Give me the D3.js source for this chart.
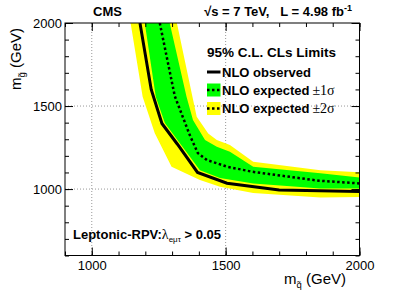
<!DOCTYPE html>
<html>
<head>
<meta charset="utf-8">
<script src="https://cdn.jsdelivr.net/npm/d3@7"></script>
<style>
  body { margin: 0; background: #fff; }
  svg { display: block; font-family: "Liberation Sans", Arial, sans-serif; }
</style>
</head>
<body>
<div id="chart"></div>
<script>
// --- Data (squark mass, gluino mass) in GeV ---
const observedSquark = [1180, 1222, 1262, 1320, 1395, 1505, 1700, 2000];
const observedGluino = [2000, 1600, 1395, 1270, 1100, 1035, 995, 985];

const expectedSquark = [1254, 1310, 1366, 1396, 1430, 1505, 1600, 1850, 2000];
const expectedGluino = [2000, 1560, 1325, 1217, 1175, 1135, 1104, 1050, 1034];

// +-1 sigma band edges
const sig1HiSquark = [1291, 1354, 1378, 1423, 1467, 1516, 1603, 1854, 2000];
const sig1HiGluino = [2000, 1556, 1416, 1295, 1255, 1225, 1134, 1095, 1070];
const sig1LoSquark = [1198, 1239, 1273, 1404, 1479, 1603, 1854, 2000];
const sig1LoGluino = [2000, 1556, 1398, 1114, 1066, 1034, 1004, 1004];

// +-2 sigma band edges
const sig2HiSquark = [1318, 1376, 1392, 1435, 1467, 1516, 1603, 1854, 2000];
const sig2HiGluino = [2000, 1556, 1436, 1335, 1295, 1265, 1164, 1114, 1102];
const sig2LoSquark = [1145, 1190, 1235, 1298, 1404, 1479, 1603, 1854, 2000];
const sig2LoGluino = [2000, 1556, 1337, 1134, 1054, 1014, 976, 950, 952];

const xMajorTicks = [1000, 1500, 2000];
const yMajorTicks = [1000, 1500, 2000];
const xMinorTicks = d3.range(900, 2001, 100);
const yMinorTicks = d3.range(600, 2001, 100);

const zip = (xs, ys) => xs.map((x, i) => [x, ys[i]]);

// --- Sizes ---
const W = 409, H = 294;
const plot = { left: 65, right: 359.5, top: 23, bottom: 255.5 };

const svg = d3.select("#chart").append("svg")
    .attr("width", W)
    .attr("height", H);

// --- Scales ---
const x = d3.scaleLinear().domain([900, 2000]).range([plot.left, plot.right]);
const y = d3.scaleLinear().domain([600, 2000]).range([plot.bottom, plot.top]);

svg.append("clipPath").attr("id", "clip")
  .append("rect")
    .attr("x", plot.left).attr("y", plot.top)
    .attr("width", plot.right - plot.left)
    .attr("height", plot.bottom - plot.top);

const line = d3.line().x(d => x(d[0])).y(d => y(d[1]));

const band = (hiX, hiY, loX, loY) =>
    line(zip(hiX, hiY).concat(zip(loX, loY).reverse())) + "Z";

const g = svg.append("g").attr("clip-path", "url(#clip)");

// bands
g.append("path")
    .attr("d", band(sig2HiSquark, sig2HiGluino, sig2LoSquark, sig2LoGluino))
    .attr("fill", "#ffff00");
g.append("path")
    .attr("d", band(sig1HiSquark, sig1HiGluino, sig1LoSquark, sig1LoGluino))
    .attr("fill", "#00ff00");

// grid (dotted, at major ticks)
const grid = svg.append("g");
grid.selectAll(".gx").data([1000, 1500]).join("line")
    .attr("x1", d => x(d)).attr("x2", d => x(d))
    .attr("y1", plot.top).attr("y2", plot.bottom);
grid.selectAll(".gy").data([1000, 1500]).join("line")
    .attr("y1", d => y(d)).attr("y2", d => y(d))
    .attr("x1", plot.left).attr("x2", plot.right);
grid.selectAll("line")
    .attr("stroke", "#999")
    .attr("stroke-width", 1)
    .attr("stroke-dasharray", "1,2");
grid.lower();

// lines
g.append("path")
    .attr("d", line(zip(expectedSquark, expectedGluino)))
    .attr("fill", "none")
    .attr("stroke", "#000")
    .attr("stroke-width", 2.5)
    .attr("stroke-dasharray", "2.5,2.5");
g.append("path")
    .attr("d", line(zip(observedSquark, observedGluino)))
    .attr("fill", "none")
    .attr("stroke", "#000")
    .attr("stroke-width", 3);

// --- Axes (ROOT style: ticks inside, on all four sides) ---
const styleAxis = sel => {
    sel.select(".domain").remove();
    sel.selectAll("line").attr("stroke", "#000");
    sel.selectAll("text")
        .attr("fill", "#000")
        .style("font-size", "13px")
        .style("font-family", "'Liberation Sans', Arial, sans-serif");
};

// bottom
svg.append("g").attr("transform", `translate(0,${plot.bottom})`)
    .call(d3.axisBottom(x).tickValues(xMinorTicks).tickSize(-4).tickFormat(""))
    .call(styleAxis);
svg.append("g").attr("transform", `translate(0,${plot.bottom})`)
    .call(d3.axisBottom(x).tickValues(xMajorTicks).tickSize(-8).tickPadding(5).tickFormat(d3.format("d")))
    .call(styleAxis);
// top
svg.append("g").attr("transform", `translate(0,${plot.top})`)
    .call(d3.axisTop(x).tickValues(xMinorTicks).tickSize(-4).tickFormat(""))
    .call(styleAxis);
svg.append("g").attr("transform", `translate(0,${plot.top})`)
    .call(d3.axisTop(x).tickValues(xMajorTicks).tickSize(-8).tickFormat(""))
    .call(styleAxis);
// left
svg.append("g").attr("transform", `translate(${plot.left},0)`)
    .call(d3.axisLeft(y).tickValues(yMinorTicks).tickSize(-4).tickFormat(""))
    .call(styleAxis);
svg.append("g").attr("transform", `translate(${plot.left},0)`)
    .call(d3.axisLeft(y).tickValues(yMajorTicks).tickSize(-8).tickPadding(3).tickFormat(d3.format("d")))
    .call(styleAxis);
// right
svg.append("g").attr("transform", `translate(${plot.right},0)`)
    .call(d3.axisRight(y).tickValues(yMinorTicks).tickSize(-4).tickFormat(""))
    .call(styleAxis);
svg.append("g").attr("transform", `translate(${plot.right},0)`)
    .call(d3.axisRight(y).tickValues(yMajorTicks).tickSize(-8).tickFormat(""))
    .call(styleAxis);

// frame
svg.append("rect")
    .attr("x", plot.left).attr("y", plot.top)
    .attr("width", plot.right - plot.left)
    .attr("height", plot.bottom - plot.top)
    .attr("fill", "none")
    .attr("stroke", "#000")
    .attr("stroke-width", 1);

// --- Axis titles ---
const xTitle = svg.append("text")
    .attr("x", 346).attr("y", 284)
    .attr("text-anchor", "end")
    .style("font-size", "15px");
xTitle.append("tspan").text("m");
xTitle.append("tspan").text("q\u0303").attr("dy", 4).style("font-size", "9.5px");
xTitle.append("tspan").text(" (GeV)").attr("dy", -4);

const yTitle = svg.append("text")
    .attr("transform", "translate(21,28) rotate(-90)")
    .attr("text-anchor", "end")
    .style("font-size", "15px");
yTitle.append("tspan").text("m");
yTitle.append("tspan").text("g\u0303").attr("dy", 4).style("font-size", "9.5px");
yTitle.append("tspan").text(" (GeV)").attr("dy", -4);

// --- Header texts ---
svg.append("text")
    .attr("x", 93).attr("y", 16)
    .style("font-size", "13px").style("font-weight", "bold")
    .text("CMS");

const lumi = svg.append("text")
    .attr("x", 352).attr("y", 16)
    .attr("text-anchor", "end")
    .style("font-size", "13px").style("font-weight", "bold")
    .style("white-space", "pre");
lumi.append("tspan").text("\u221As = 7 TeV,   L = 4.98 fb");
lumi.append("tspan").text("-1").attr("dy", -5).style("font-size", "9px");

// --- Legend ---
const legend = svg.append("g").style("font-weight", "bold");
legend.append("text").attr("x", 207).attr("y", 57)
    .style("font-size", "13.5px")
    .text("95% C.L. CLs Limits");

const legendRows = [
    { label: "NLO observed", sym: "", fill: null, dash: null, y: 72 },
    { label: "NLO expected", sym: "\u00B11\u03C3", fill: "#00ff00", dash: "2.5,2.5", y: 90 },
    { label: "NLO expected", sym: "\u00B12\u03C3", fill: "#ffff00", dash: "2.5,2.5", y: 108.5 }
];
legendRows.forEach(r => {
    if (r.fill) {
        legend.append("rect")
            .attr("x", 207).attr("y", r.y - 6.5)
            .attr("width", 13.5).attr("height", 13)
            .attr("fill", r.fill);
    }
    legend.append("line")
        .attr("x1", 207).attr("x2", 220.5)
        .attr("y1", r.y).attr("y2", r.y)
        .attr("stroke", "#000")
        .attr("stroke-width", r.dash ? 2.5 : 3)
        .attr("stroke-dasharray", r.dash);
    const t = legend.append("text")
        .attr("x", 222).attr("y", r.y + 4.5)
        .style("font-size", "13px");
    t.append("tspan").text(r.label);
    t.append("tspan").text(r.sym)
        .attr("dx", 3)
        .style("font-weight", "normal")
        .style("font-family", "'Liberation Serif', serif")
        .style("font-size", "14px");
});

// --- Model label ---
const model = svg.append("text")
    .attr("x", 73).attr("y", 239)
    .style("font-size", "13px");
model.append("tspan").text("Leptonic-RPV:").style("font-weight", "bold");
model.append("tspan").text("\u03BB").style("font-family", "'Liberation Serif', serif").style("font-size", "14px");
model.append("tspan").text("e\u03BC\u03C4").attr("dy", 3).style("font-size", "8px");
model.append("tspan").text(" > 0.05").attr("dy", -3).style("font-weight", "bold");
</script>
</body>
</html>
